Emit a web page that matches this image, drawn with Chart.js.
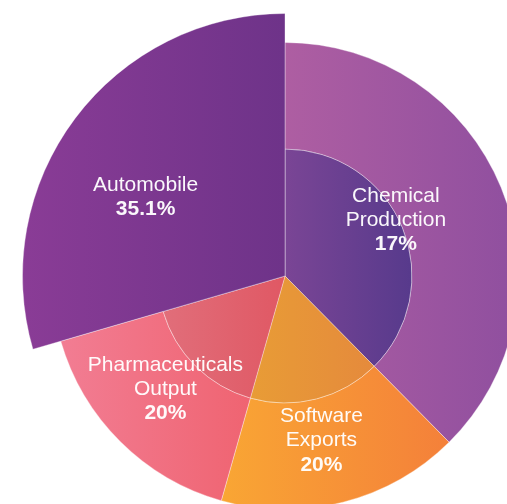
<!DOCTYPE html>
<html>
<head>
<meta charset="utf-8">
<script src="https://cdn.jsdelivr.net/npm/chart.js@4.4.1/dist/chart.umd.min.js"></script>
<style>
  html, body { margin: 0; padding: 0; background: #fff; overflow: hidden; width: 507px; height: 504px; }
  #wrap { position: absolute; left: 0; top: 0; width: 570px; height: 552px; }
</style>
</head>
<body>
<div id="wrap"><canvas id="myChart"></canvas></div>
<script>
// DATA (clockwise from 12 o'clock)
const categories = ["Chemical Production", "Software Exports", "Pharmaceuticals Output", "Automobile"];
const labelLines = [["Chemical", "Production"], ["Software", "Exports"], ["Pharmaceuticals", "Output"], ["Automobile"]];
const shareLabels = ["17%", "20%", "20%", "35.1%"];
const sliceValues = [37.6, 16.8, 16.1, 29.5];

// COLOURS: [left, right] of each slice's horizontal gradient
const outerColors = [["#ae5ea2", "#8f4f9f"], ["#f9a634", "#f4803a"], ["#f27d93", "#ef5f6b"], ["#8a3c96", "#6e3389"]];
const innerColors = [["#7a4595", "#573a8c"], ["#e89c36", "#e58a3c"], ["#e16e7a", "#e05864"], ["#8a3c96", "#6e3389"]];

const FONT = '"Liberation Sans", Arial, sans-serif';

function arcXRange(arc, withCenter) {
  let lo = Infinity, hi = -Infinity;
  const radii = withCenter ? [0, arc.outerRadius] : [arc.innerRadius, arc.outerRadius];
  for (let k = 0; k <= 64; k++) {
    const a = arc.startAngle + (arc.endAngle - arc.startAngle) * k / 64;
    radii.forEach((r) => {
      const x = arc.x + r * Math.cos(a);
      lo = Math.min(lo, x);
      hi = Math.max(hi, x);
    });
  }
  return [lo, hi];
}

// gradients, highlighted slice and labels
const sectorPlugin = {
  id: "sectorStyle",
  afterDatasetsUpdate(chart, args, opts) {
    const outerMeta = chart.getDatasetMeta(0);
    const big = outerMeta.data[opts.highlight];
    big.innerRadius = 0;
    big.outerRadius = outerMeta.controller.outerRadius + opts.extra;
    [0, 1].forEach((di) => {
      const palette = di === 0 ? outerColors : innerColors;
      chart.getDatasetMeta(di).data.forEach((arc, i) => {
        const [x0, x1] = arcXRange(arc, true);
        const g = chart.ctx.createLinearGradient(x0, 0, x1, 0);
        g.addColorStop(0, palette[i][0]);
        g.addColorStop(1, palette[i][1]);
        arc.options = { ...arc.options, backgroundColor: g };
      });
    });
  },
  afterDraw(chart, args, opts) {
    const meta = chart.getDatasetMeta(0);
    const R = meta.controller.outerRadius;
    const ctx = chart.ctx;
    ctx.save();
    ctx.fillStyle = "rgba(255,255,255,0.96)";
    ctx.textAlign = "center";
    ctx.textBaseline = "alphabetic";
    meta.data.forEach((arc, i) => {
      const p = opts.placement[i];
      const mid = (arc.startAngle + arc.endAngle) / 2 + p.da * Math.PI / 180;
      const cx = arc.x + Math.cos(mid) * R * p.r;
      const cy = arc.y + Math.sin(mid) * R * p.r;
      const lines = labelLines[i].concat([shareLabels[i]]);
      const lh = 24.2;
      lines.forEach((t, k) => {
        const last = k === lines.length - 1;
        ctx.font = (last ? "bold " : "") + "21px " + FONT;
        const y = cy + (k - (lines.length - 1) / 2) * lh + 7.5;
        ctx.fillText(t, cx, y);
      });
    });
    ctx.restore();
  },
};

let ctx = document.getElementById("myChart").getContext("2d");
var myChart = new Chart(ctx, {
  type: "pie",
  data: {
    labels: categories,
    datasets: [
      {
        data: sliceValues,
        weight: 106.5,
        backgroundColor: outerColors.map((c) => c[0]),
        borderColor: "rgba(255,255,255,0.35)",
        borderWidth: 1,
      },
      {
        data: sliceValues,
        weight: 127,
        backgroundColor: innerColors.map((c) => c[0]),
        borderColor: "rgba(255,255,255,0.3)",
        borderWidth: 1,
      },
    ],
  },
  options: {
    responsive: true,
    maintainAspectRatio: false,
    animation: false,
    events: [],
    radius: 233.5,
    layout: { padding: 0 },
    plugins: {
      legend: { display: false },
      tooltip: { enabled: false },
      sectorStyle: {
        highlight: 3,
        extra: 29,
        placement: [
          { r: 0.535, da: -5.1 },
          { r: 0.715, da: 1.8 },
          { r: 0.70, da: 2.2 },
          { r: 0.69, da: -6.8 },
        ],
      },
    },
  },
  plugins: [sectorPlugin],
});
</script>
</body>
</html>
